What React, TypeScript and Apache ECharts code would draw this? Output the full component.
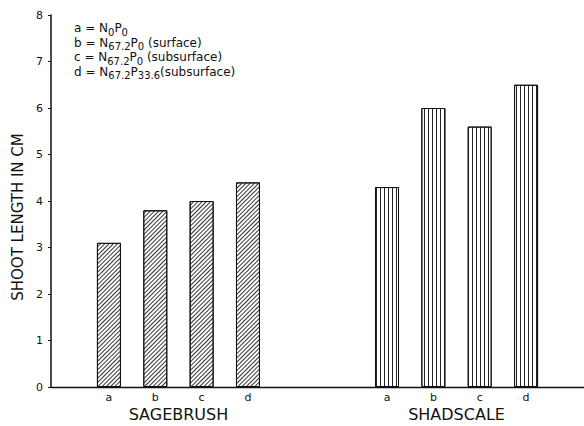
import React, { useEffect, useRef } from "react";
import * as echarts from "echarts";

const treatments = ["a", "b", "c", "d"];
const species = ["SAGEBRUSH", "SHADSCALE"];
const sagebrush = [3.1, 3.8, 4.0, 4.4];
const shadscale = [4.3, 6.0, 5.6, 6.5];
const yTicks = { min: 0, max: 8, interval: 1 };
const yName = "SHOOT LENGTH IN CM";
// legend rows: [text, style] tokens (n = normal, s = subscript)
const legendRows: [string, string][][] = [
  [["a = N", "n"], ["0", "s"], ["P", "n"], ["0", "s"]],
  [["b = N", "n"], ["67.2", "s"], ["P", "n"], ["0", "s"], [" (surface)", "n"]],
  [["c = N", "n"], ["67.2", "s"], ["P", "n"], ["0", "s"], [" (subsurface)", "n"]],
  [["d = N", "n"], ["67.2", "s"], ["P", "n"], ["33.6", "s"], ["(subsurface)", "n"]],
];

// slot layout of the category axis (two slots per treatment, gap between species)
const SLOTS = 23;
const groupStart = [2, 14];

const FONT = "DejaVu Sans";

export default function App() {
  const ref = useRef<HTMLDivElement>(null);
  useEffect(() => {
    document.body.style.margin = "0";
    if (!ref.current) return;
    const chart = echarts.init(ref.current, null, { renderer: "svg" });

    const cats: string[] = new Array(SLOTS).fill("");
    const groupCats: string[] = new Array(SLOTS).fill("");
    const sageData: (number | string)[] = new Array(SLOTS).fill("-");
    const shadData: (number | string)[] = new Array(SLOTS).fill("-");
    const groups = [sagebrush, shadscale];
    const seriesData = [sageData, shadData];
    groups.forEach((vals, g) => {
      vals.forEach((v, i) => {
        const slot = groupStart[g] + i * 2;
        cats[slot] = treatments[i];
        seriesData[g][slot] = v;
      });
      groupCats[groupStart[g] + (vals.length - 1)] = species[g];
    });
    const catNames = cats.map((c, i) => `${i}|${c}`);

    const legendGraphics = legendRows.map((row, r) => ({
      type: "text",
      x: 74,
      y: 22 + r * 14.5,
      style: {
        text: row.map(([t, s]) => `{${s}|${t}}`).join(""),
        rich: {
          n: { fontSize: 12, fontFamily: FONT, fill: "#111", verticalAlign: "top", padding: [0, 0, 3, 0] },
          s: { fontSize: 10, fontFamily: FONT, fill: "#111", verticalAlign: "bottom" },
        },
      },
    }));

    chart.setOption({
      animation: false,
      backgroundColor: "#fff",
      grid: { left: 51, right: -4, top: 15, bottom: 39 },
      xAxis: [
        {
          type: "category",
          data: catNames,
          axisLine: { show: true, lineStyle: { color: "#111", width: 1.3 } },
          axisTick: { show: false },
          axisLabel: {
            interval: 0,
            margin: 5,
            fontSize: 11,
            fontFamily: FONT,
            color: "#111",
            formatter: (v: string) => v.split("|")[1],
          },
        },
        {
          type: "category",
          data: catNames,
          position: "bottom",
          axisLine: { show: false },
          axisTick: { show: false },
          axisLabel: {
            interval: 0,
            margin: 19,
            fontSize: 16,
            fontFamily: FONT,
            color: "#111",
            formatter: (_v: string, i: number) => groupCats[i],
          },
        },
      ],
      yAxis: {
        type: "value",
        min: yTicks.min,
        max: yTicks.max,
        interval: yTicks.interval,
        name: yName,
        nameLocation: "middle",
        nameRotate: 90,
        nameGap: 25,
        nameTextStyle: { fontSize: 15, fontFamily: FONT, color: "#111", padding: [0, 32, 0, 0] },
        axisLine: { show: true, lineStyle: { color: "#111", width: 1.5 } },
        axisTick: { show: true, length: 3, lineStyle: { color: "#111" } },
        splitLine: { show: false },
        axisLabel: { fontSize: 11, fontFamily: FONT, color: "#111", margin: 8 },
      },
      graphic: legendGraphics,
      series: [
        {
          type: "bar",
          name: species[0],
          data: sageData,
          barWidth: 24,
          barGap: "-100%",
          itemStyle: {
            color: "#fff",
            borderColor: "#111",
            borderWidth: 1,
            decal: {
              symbol: "rect",
              symbolSize: 1,
              color: "#333",
              dashArrayX: [1, 0],
              dashArrayY: [1, 1.5],
              rotation: -Math.PI / 4,
            },
          },
        },
        {
          type: "bar",
          name: species[1],
          data: shadData,
          barWidth: 24,
          barGap: "-100%",
          itemStyle: {
            color: "#fff",
            borderColor: "#111",
            borderWidth: 1,
            decal: {
              symbol: "rect",
              symbolSize: 1,
              color: "#222",
              dashArrayX: [1, 3],
              dashArrayY: [2, 0],
              rotation: 0,
            },
          },
        },
      ],
    });
    return () => chart.dispose();
  }, []);
  return <div ref={ref} style={{ width: 584, height: 426 }} />;
}
